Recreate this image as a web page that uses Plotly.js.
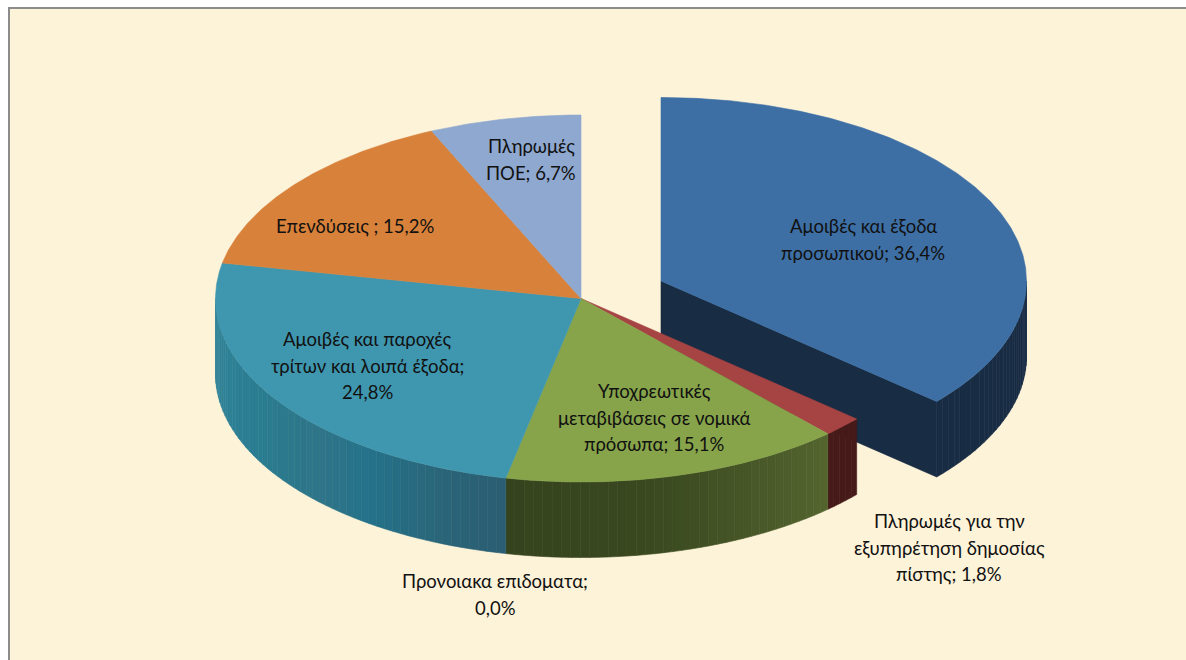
<!DOCTYPE html>
<html>
<head>
<meta charset="utf-8">
<script src="https://cdn.plot.ly/plotly-3.0.1.min.js"></script>
<style>html,body{margin:0;padding:0;background:#fff;overflow:hidden}</style>
</head>
<body>
<div id="chart" style="width:1186px;height:660px"></div>
<script>
// ---- data, clockwise from 12 o'clock ----
const categories = ["Αμοιβές και έξοδα προσωπικού", "Πληρωμές για την εξυπηρέτηση δημοσίας πίστης",
  "Υποχρεωτικές μεταβιβάσεις σε νομικά πρόσωπα", "Προνοιακα επιδοματα",
  "Αμοιβές και παροχές τρίτων και λοιπά έξοδα", "Επενδύσεις", "Πληρωμές ΠΟΕ"];
const values = [36.4, 1.8, 15.1, 0.0, 24.8, 15.2, 6.7];
const labelLines = [
  ["Αμοιβές και έξοδα", "προσωπικού; 36,4%"],
  ["Πληρωμές για την", "εξυπηρέτηση δημοσίας", "πίστης; 1,8%"],
  ["Υποχρεωτικές", "μεταβιβάσεις σε νομικά", "πρόσωπα; 15,1%"],
  ["Προνοιακα επιδοματα;", "0,0%"],
  ["Αμοιβές και παροχές", "τρίτων και λοιπά έξοδα;", "24,8%"],
  ["Επενδύσεις ; 15,2%"],
  ["Πληρωμές", "ΠΟΕ; 6,7%"]
];

// ---- style / geometry ----
const topColors = ["#3D6FA5", "#A64343", "#87A44A", "#3F97AF", "#3F97AF", "#D8813A", "#8EA8CF"];
const wallStops = [
  [[0, "#182C44"], [1, "#182C44"]],
  [[0, "#451A18"], [1, "#451A18"]],
  [[0, "#55652F"], [0.25, "#485828"], [0.6, "#39481F"], [1, "#35441E"]],
  [[0, "#2B5D72"], [1, "#2B5D72"]],
  [[0, "#2B5D72"], [0.14, "#2A6579"], [0.3, "#24728A"], [0.42, "#2F7488"], [0.62, "#2A7C90"], [0.8, "#2E8196"], [1, "#34869A"]],
  [[0, "#888888"], [1, "#888888"]],
  [[0, "#888888"], [1, "#888888"]]
];
const RX = 365.5, RY = 183.5, DEPTH = 75.5;
const CENTER = {x: 581, y: 298.5};
const BLUE_CENTER = {x: 661, y: 281};
const labelCenters = [[863, 0], [949, 0], [654, 0], [495, 0], [367, 0], [355, 0], [531, 0]];
const labelFirstY = [226, 521, 391, 581, 339, 226, 146];
const LINE_H = 26.6;
const FONT = {family: "Lato, 'Open Sans', sans-serif", size: 18.5, color: "#111111"};

// ---- helpers ----
const total = values.reduce((a, b) => a + b, 0);
const rad = d => d * Math.PI / 180;
function pt(c, deg, dy) {
  return [c.x + RX * Math.sin(rad(deg)), c.y - RY * Math.cos(rad(deg)) + (dy || 0)];
}
function arc(c, a0, a1, dy) {
  const n = Math.max(2, Math.ceil(Math.abs(a1 - a0) / 0.5));
  const out = [];
  for (let i = 0; i <= n; i++) out.push(pt(c, a0 + (a1 - a0) * i / n, dy));
  return out;
}
function poly(points, color, name) {
  return {
    type: "scatter", mode: "lines", fill: "toself", fillcolor: color,
    x: points.map(p => p[0]).concat(points[0][0]),
    y: points.map(p => p[1]).concat(points[0][1]),
    line: {color: color, width: 0.6}, hoverinfo: "skip", showlegend: false, name: name || ""
  };
}
function hex(c) { return [1, 3, 5].map(i => parseInt(c.substr(i, 2), 16)); }
function mix(stops, t) {
  for (let i = 1; i < stops.length; i++) {
    if (t <= stops[i][0]) {
      const u = (t - stops[i - 1][0]) / (stops[i][0] - stops[i - 1][0] || 1);
      const a = hex(stops[i - 1][1]), b = hex(stops[i][1]);
      return "rgb(" + a.map((v, k) => Math.round(v + (b[k] - v) * u)).join(",") + ")";
    }
  }
  return stops[stops.length - 1][1];
}

// slice angles
let acc = 0;
const angles = values.map(v => { const s = acc; acc += v; return [s / total * 360, acc / total * 360]; });

const traces = [];
function wall(c, i) {
  const a0 = Math.max(angles[i][0], 90), a1 = Math.min(angles[i][1], 270);
  if (a1 <= a0) return;
  const steps = Math.max(1, Math.ceil((a1 - a0) / 1.5));
  for (let s = 0; s < steps; s++) {
    const b0 = a0 + (a1 - a0) * s / steps, b1 = a0 + (a1 - a0) * (s + 1) / steps;
    const t = (s + 0.5) / steps;
    const pts = arc(c, b0, b1, 0).concat(arc(c, b1, b0, DEPTH));
    traces.push(poly(pts, mix(wallStops[i], t), categories[i]));
  }
}

// exploded slice first: it sits behind the rest of the pie
const tip = pt(BLUE_CENTER, angles[0][1]);
traces.push(poly([[BLUE_CENTER.x, BLUE_CENTER.y], tip, [tip[0], tip[1] + DEPTH], [BLUE_CENTER.x, BLUE_CENTER.y + DEPTH]], wallStops[0][0][1], categories[0]));
wall(BLUE_CENTER, 0);
traces.push(poly([[BLUE_CENTER.x, BLUE_CENTER.y]].concat(arc(BLUE_CENTER, angles[0][0], angles[0][1])), topColors[0], categories[0]));

// remaining walls then top faces
for (let i = 1; i < values.length; i++) wall(CENTER, i);
for (let i = 1; i < values.length; i++) {
  if (values[i] === 0) continue;
  traces.push(poly([[CENTER.x, CENTER.y]].concat(arc(CENTER, angles[i][0], angles[i][1])), topColors[i], categories[i]));
}

// labels, one annotation per line to hold the line pitch
const annotations = [];
labelLines.forEach((lines, i) => lines.forEach((txt, k) => annotations.push({
  x: labelCenters[i][0], y: labelFirstY[i] + k * LINE_H, xref: "x", yref: "y",
  text: txt, showarrow: false, xanchor: "center", yanchor: "middle", font: FONT
})));

Plotly.newPlot("chart", traces, {
  width: 1186, height: 660,
  margin: {l: 0, r: 0, t: 0, b: 0},
  paper_bgcolor: "#ffffff", plot_bgcolor: "rgba(0,0,0,0)",
  showlegend: false, hovermode: false,
  xaxis: {range: [0, 1186], visible: false, fixedrange: true},
  yaxis: {range: [660, 0], visible: false, fixedrange: true},
  shapes: [{
    type: "rect", layer: "below", xref: "x", yref: "y", x0: 9, y0: 8, x1: 1200, y1: 680,
    fillcolor: "#FDF3D9", line: {color: "#8C8C8C", width: 2}
  }],
  annotations: annotations
}, {displayModeBar: false, staticPlot: true});
</script>
</body>
</html>
